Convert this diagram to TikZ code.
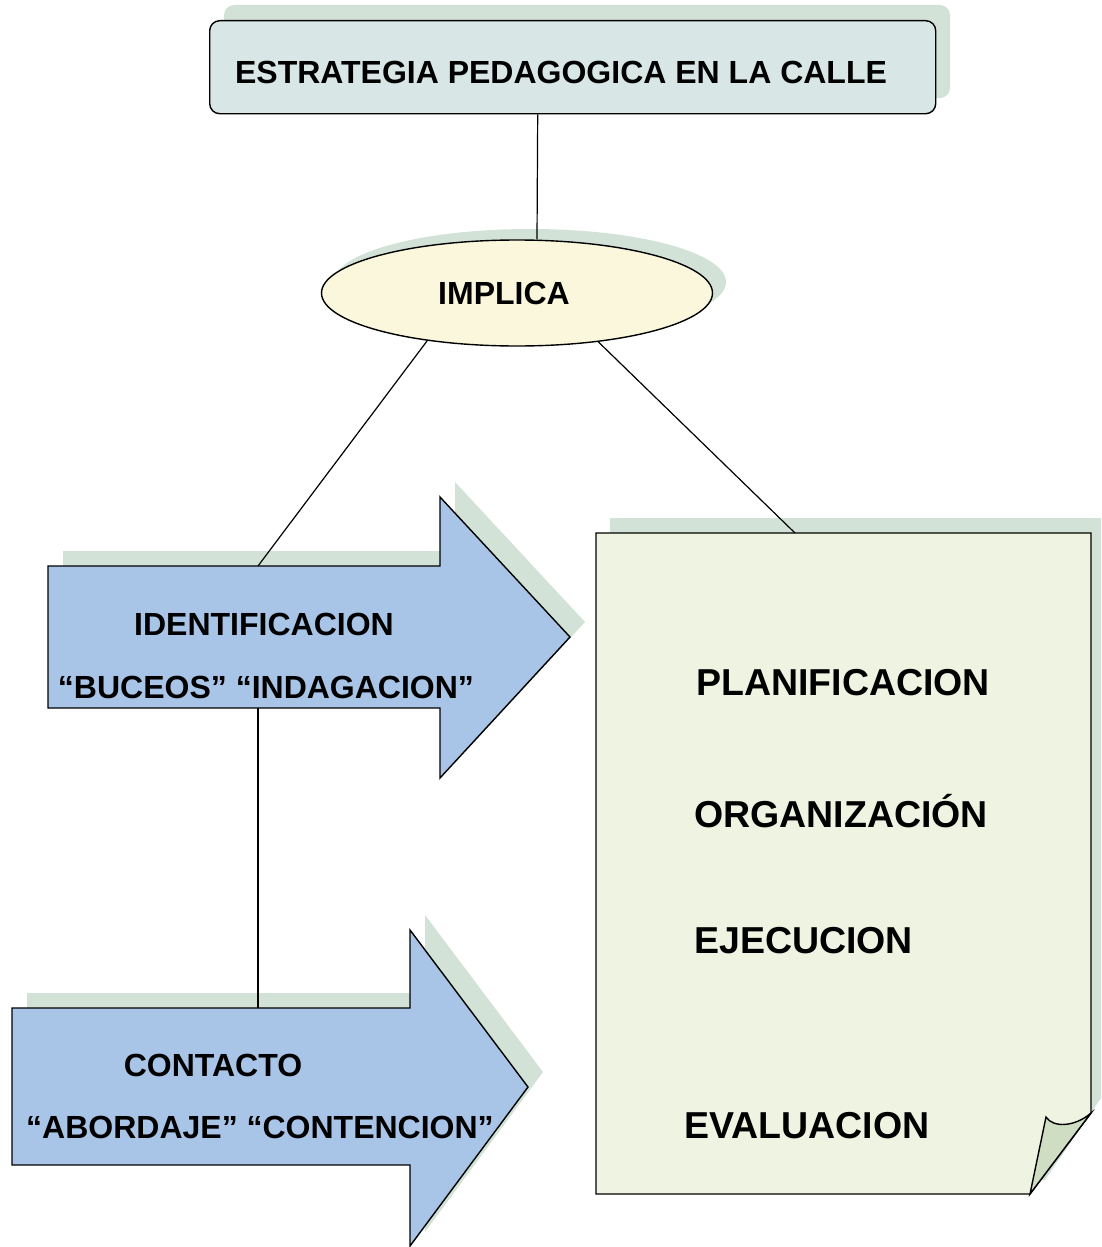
\documentclass[tikz,border=0pt]{standalone}
\usepackage{fontspec}
\setmainfont{Liberation Sans}
\usetikzlibrary{shapes.geometric}
\definecolor{shadowc}{HTML}{D3E2D6}
\definecolor{titlefill}{HTML}{D8E7E6}
\definecolor{ellfill}{HTML}{FBF7DC}
\definecolor{arrowfill}{HTML}{A8C4E7}
\definecolor{docfill}{HTML}{EEF4E1}
\definecolor{flapfill}{HTML}{CFDDC3}
\tikzset{
  lbl/.style={font=\bfseries\fontsize{32}{38}\selectfont, inner sep=0pt, text=black},
  biglbl/.style={font=\bfseries\fontsize{37.5}{44}\selectfont, inner sep=0pt, text=black},
  outline/.style={draw=black, line width=1.4pt, line join=miter},
  conn/.style={draw=black, line width=1.2pt},
  shadowstyle/.style={fill=shadowc, draw=none}
}
\begin{document}
\begin{tikzpicture}[x=1pt,y=-1pt]
\useasboundingbox (0,0) rectangle (1101,1247);
% ---------- title box ----------
\fill[shadowc, rounded corners=10pt] (224,5) rectangle (950,98);
\node[outline, fill=titlefill, rounded corners=10pt, minimum width=726pt, minimum height=93pt, inner sep=0pt, anchor=north west] (title) at (209,20) {};
\node[lbl] (titletxt) at (561,72) {ESTRATEGIA PEDAGOGICA EN LA CALLE};
% ---------- ellipse ----------
\fill[shadowc] (530,282) ellipse [x radius=196pt, y radius=53pt];
\node[outline, ellipse, fill=ellfill, minimum width=391pt, minimum height=106pt, inner sep=0pt] (impl) at (517,293) {};
\node[lbl] (impltxt) at (504,293) {IMPLICA};
% ---------- arrow 1 ----------
\fill[shadowc] (63,551) -- (455,551) -- (455,482) -- (585,622) -- (455,763) -- (455,693) -- (63,693) -- cycle;
\draw[outline, fill=arrowfill] (48,566) -- (440,566) -- (440,497) -- (570,637) -- (440,778) -- (440,708) -- (48,708) -- cycle;
\coordinate (a1top) at (258,566);
\coordinate (a1bot) at (258,708);
\node[lbl] (t1a) at (264,624) {IDENTIFICACION};
\node[lbl] (t1b) at (266,687) {“BUCEOS” “INDAGACION”};
% ---------- arrow 2 ----------
\fill[shadowc] (27,993) -- (425,993) -- (425,915) -- (543,1072) -- (425,1232) -- (425,1150) -- (27,1150) -- cycle;
\draw[outline, fill=arrowfill] (12,1008) -- (410,1008) -- (410,930) -- (528,1087) -- (410,1246) -- (410,1165) -- (12,1165) -- cycle;
\coordinate (a2top) at (258,1008);
\node[lbl] (t2a) at (213,1065) {CONTACTO};
\node[lbl] (t2b) at (260,1127) {“ABORDAJE” “CONTENCION”};
% ---------- document ----------
\fill[shadowc] (610,518) -- (1101,518) -- (1101,1098) -- (1045,1180) -- (610,1180) -- cycle;
\draw[outline, fill=docfill] (596,533) -- (1091,533) -- (1091,1113) -- (1030,1194) -- (596,1194) -- cycle;
\draw[outline, fill=flapfill] (1046,1117) -- (1030,1194) -- (1091,1113) .. controls (1075,1127) and (1053,1128) .. (1046,1117) -- cycle;
\coordinate (doctop) at (795,533);
\node[biglbl, anchor=west] (p1) at (696,683) {PLANIFICACION};
\node[biglbl, anchor=west] (p2) at (694,811) {ORGANIZACIÓN};
\node[biglbl, anchor=west] (p3) at (694,941) {EJECUCION};
\node[biglbl, anchor=west] (p4) at (684,1126) {EVALUACION};
% ---------- connectors ----------
\draw[conn] ([xshift=-35pt]title.south) -- ([xshift=20pt]impl.north);
\draw[conn] (impl.208) -- (a1top);
\draw[conn] (impl.329) -- (doctop);
\draw[conn] (a1bot) -- (a2top);
\end{tikzpicture}
\end{document}
